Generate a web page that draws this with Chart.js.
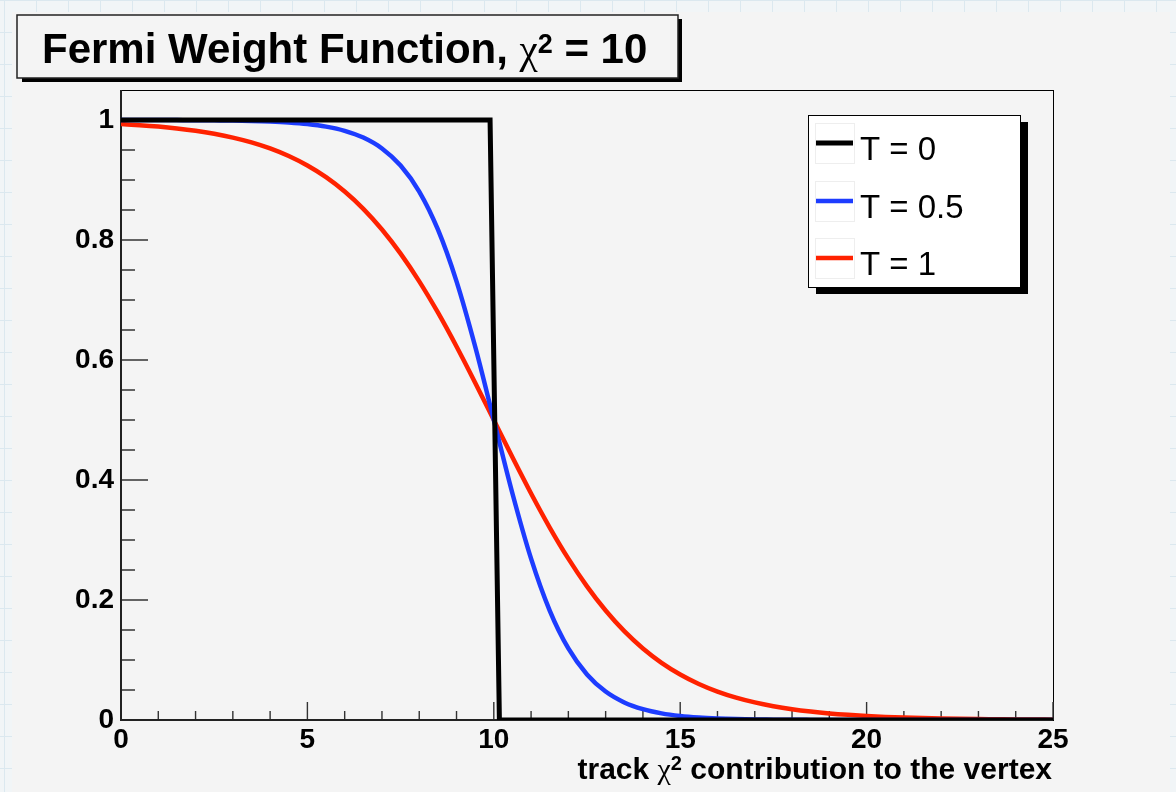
<!DOCTYPE html>
<html>
<head>
<meta charset="utf-8">
<script src="https://cdn.jsdelivr.net/npm/chart.js@4/dist/chart.umd.min.js"></script>
<style>
  html, body { margin: 0; padding: 0; }
  body {
    width: 1176px; height: 792px; overflow: hidden;
    background-color: #f1f5f7;
    background-image:
      linear-gradient(#dbe8ef 1px, transparent 1px),
      linear-gradient(90deg, #dbe8ef 1px, transparent 1px);
    background-size: 32px 32px;
    background-position: 4px 0px;
  }
  canvas { position: absolute; left: 0; top: 0; }
</style>
</head>
<body>
<canvas id="chart" width="1176" height="792"></canvas>
<script>
// track chi2 values (x) and Fermi weights
const chiSq = [0, 0.5, 1, 1.5, 2, 2.5, 3, 3.5, 4, 4.5, 5, 5.5, 6, 6.5, 7, 7.5, 8, 8.5, 9, 9.5,
  10, 10.5, 11, 11.5, 12, 12.5, 13, 13.5, 14, 14.5, 15, 15.5, 16, 16.5, 17, 17.5, 18, 18.5, 19, 19.5,
  20, 20.5, 21, 21.5, 22, 22.5, 23, 23.5, 24, 24.5, 25];

const wT05 = [1.0000, 0.9999, 0.9999, 0.9998, 0.9997, 0.9994, 0.9991, 0.9985, 0.9975, 0.9959,
  0.9933, 0.9890, 0.9820, 0.9707, 0.9526, 0.9241, 0.8808, 0.8176, 0.7311, 0.6225,
  0.5000, 0.3775, 0.2689, 0.1824, 0.1192, 0.0759, 0.0474, 0.0293, 0.0180, 0.0110,
  0.0067, 0.0041, 0.0025, 0.0015, 0.0009, 0.0006, 0.0003, 0.0002, 0.0001, 0.0001,
  0, 0, 0, 0, 0, 0, 0, 0, 0, 0, 0];

const wT1 = [0.9933, 0.9914, 0.9890, 0.9859, 0.9820, 0.9770, 0.9707, 0.9627, 0.9526, 0.9399,
  0.9241, 0.9047, 0.8808, 0.8520, 0.8176, 0.7773, 0.7311, 0.6792, 0.6225, 0.5622,
  0.5000, 0.4378, 0.3775, 0.3208, 0.2689, 0.2227, 0.1824, 0.1480, 0.1192, 0.0953,
  0.0759, 0.0601, 0.0474, 0.0373, 0.0293, 0.0230, 0.0180, 0.0141, 0.0110, 0.0086,
  0.0067, 0.0052, 0.0041, 0.0032, 0.0025, 0.0019, 0.0015, 0.0012, 0.0009, 0.0007, 0.0006];

// T = 0 is a hard cut
const stepX = [0, 9.9, 10.15, 25];
const wT0 = [1, 1, 0, 0];

const seriesLabels = ["T = 0", "T = 0.5", "T = 1"];
const xTicks = [0, 5, 10, 15, 20, 25];
const xTickLabels = ["0", "5", "10", "15", "20", "25"];
const yTicks = [0, 0.2, 0.4, 0.6, 0.8, 1];
const yTickLabels = ["0", "0.2", "0.4", "0.6", "0.8", "1"];

function toPoints(xs, ys) {
  return xs.map((x, i) => ({ x: x, y: ys[i] }));
}

const SANS = '"Liberation Sans", Arial, sans-serif';
const SERIF = '"Liberation Serif", "DejaVu Serif", serif';

function drawRich(ctx, segs, x, y, align) {
  let total = 0;
  segs.forEach(s => { ctx.font = s.f; s.w = ctx.measureText(s.t).width; total += s.w; });
  let cx = align === "right" ? x - total : x;
  ctx.textAlign = "left";
  ctx.textBaseline = "alphabetic";
  segs.forEach(s => {
    ctx.font = s.f;
    ctx.fillText(s.t, cx, y + (s.dy || 0));
    cx += s.w;
  });
}

const rootStyle = {
  id: "rootStyle",
  beforeDraw(chart) {
    const ctx = chart.ctx;
    ctx.save();
    ctx.fillStyle = "#f4f4f4";
    ctx.fillRect(12, 12, 1158, 780);
    ctx.restore();
  },
  beforeDatasetsDraw(chart) {
    const ctx = chart.ctx;
    const a = chart.chartArea;
    const xs = chart.scales.x, ys = chart.scales.y;
    ctx.save();
    // frame
    ctx.strokeStyle = "#000";
    ctx.lineWidth = 1;
    ctx.strokeRect(a.left + 0.5, a.top + 0.5, a.right - a.left, a.bottom - a.top);
    // ticks
    ctx.strokeStyle = "#333";
    ctx.lineWidth = 1.4;
    ctx.beginPath();
    for (let k = 0; k <= 20; k++) {
      const py = ys.getPixelForValue(k * 0.05);
      const len = k % 4 === 0 ? 27 : 14;
      ctx.moveTo(a.left, py);
      ctx.lineTo(a.left + len, py);
    }
    for (let k = 0; k <= 25; k++) {
      const px = xs.getPixelForValue(k);
      const len = k % 5 === 0 ? 18 : 9;
      ctx.moveTo(px, a.bottom);
      ctx.lineTo(px, a.bottom - len);
    }
    ctx.stroke();
    // axes
    ctx.strokeStyle = "#222";
    ctx.lineWidth = 2;
    ctx.beginPath();
    ctx.moveTo(a.left, a.top);
    ctx.lineTo(a.left, a.bottom);
    ctx.lineTo(a.right, a.bottom);
    ctx.stroke();
    ctx.restore();
  },
  afterDraw(chart) {
    const ctx = chart.ctx;
    ctx.save();
    // title box
    ctx.fillStyle = "#000";
    ctx.fillRect(22, 19, 660, 63);
    ctx.fillStyle = "#f4f4f4";
    ctx.fillRect(17, 15, 661, 63);
    ctx.strokeStyle = "#222";
    ctx.lineWidth = 1.5;
    ctx.strokeRect(17, 15, 661, 63);
    ctx.fillStyle = "#000";
    drawRich(ctx, [
      { t: "Fermi Weight Function, ", f: "bold 42px " + SANS },
      { t: "\u03c7", f: "41px " + SERIF },
      { t: "2", f: "bold 27px " + SANS, dy: -10 },
      { t: " = 10", f: "bold 42px " + SANS }
    ], 42, 63, "left");

    // axis title
    drawRich(ctx, [
      { t: "track ", f: "bold 30px " + SANS },
      { t: "\u03c7", f: "30px " + SERIF },
      { t: "2", f: "bold 20px " + SANS, dy: -9 },
      { t: " contribution to the vertex", f: "bold 30px " + SANS }
    ], 1052, 779, "right");

    // legend
    ctx.fillStyle = "#000";
    ctx.fillRect(816, 122, 212, 172);
    ctx.fillStyle = "#fff";
    ctx.fillRect(808, 115, 212, 172);
    ctx.strokeStyle = "#000";
    ctx.lineWidth = 1;
    ctx.strokeRect(808.5, 115.5, 212, 172);
    const rows = [143, 201, 258];
    chart.data.datasets.forEach((ds, i) => {
      const y = rows[i];
      ctx.strokeStyle = "#eeeeee";
      ctx.lineWidth = 1;
      ctx.strokeRect(815.5, y - 19.5, 39, 40);
      ctx.strokeStyle = ds.borderColor;
      ctx.lineWidth = ds.borderWidth;
      ctx.beginPath();
      ctx.moveTo(816, y);
      ctx.lineTo(853, y);
      ctx.stroke();
      ctx.fillStyle = "#000";
      ctx.font = "33px " + SANS;
      ctx.textAlign = "left";
      ctx.textBaseline = "alphabetic";
      ctx.fillText(ds.label, 860, y + 17);
    });
    ctx.restore();
  }
};

const config = {
  type: "line",
  data: {
    datasets: [
      {
        label: seriesLabels[0],
        data: toPoints(stepX, wT0),
        borderColor: "#000000",
        borderWidth: 5,
        tension: 0,
      },
      {
        label: seriesLabels[1],
        data: toPoints(chiSq, wT05),
        borderColor: "#1d3cff",
        borderWidth: 4.5,
        cubicInterpolationMode: "monotone",
      },
      {
        label: seriesLabels[2],
        data: toPoints(chiSq, wT1),
        borderColor: "#ff2200",
        borderWidth: 4.5,
        cubicInterpolationMode: "monotone",
      },
    ],
  },
  options: {
    responsive: false,
    animation: false,
    devicePixelRatio: 1,
    layout: {
      padding: { top: 90, right: 123, left: 0, bottom: 0 },
    },
    elements: {
      point: { radius: 0 },
    },
    plugins: {
      legend: { display: false },
      tooltip: { enabled: false },
    },
    scales: {
      x: {
        type: "linear",
        min: 0,
        max: 25,
        grid: { display: false, drawTicks: false },
        border: { display: false },
        afterBuildTicks: (s) => { s.ticks = xTicks.map(v => ({ value: v })); },
        afterFit: (s) => { s.height = 72; },
        ticks: {
          autoSkip: false,
          maxRotation: 0,
          padding: 3,
          color: "#000",
          font: { family: SANS, size: 28, weight: "bold" },
          callback: (v, i) => xTickLabels[i],
        },
      },
      y: {
        type: "linear",
        min: 0,
        max: 1.05,
        grid: { display: false, drawTicks: false },
        border: { display: false },
        afterBuildTicks: (s) => { s.ticks = yTicks.map(v => ({ value: v })); },
        afterFit: (s) => { s.width = 121; },
        ticks: {
          autoSkip: false,
          padding: 7,
          color: "#000",
          font: { family: SANS, size: 28, weight: "bold" },
          callback: (v, i) => yTickLabels[i],
        },
      },
    },
  },
  plugins: [rootStyle],
};

window.onload = function () {
  const ctx = document.getElementById("chart").getContext("2d");
  window.fermiChart = new Chart(ctx, config);
};
</script>
</body>
</html>
